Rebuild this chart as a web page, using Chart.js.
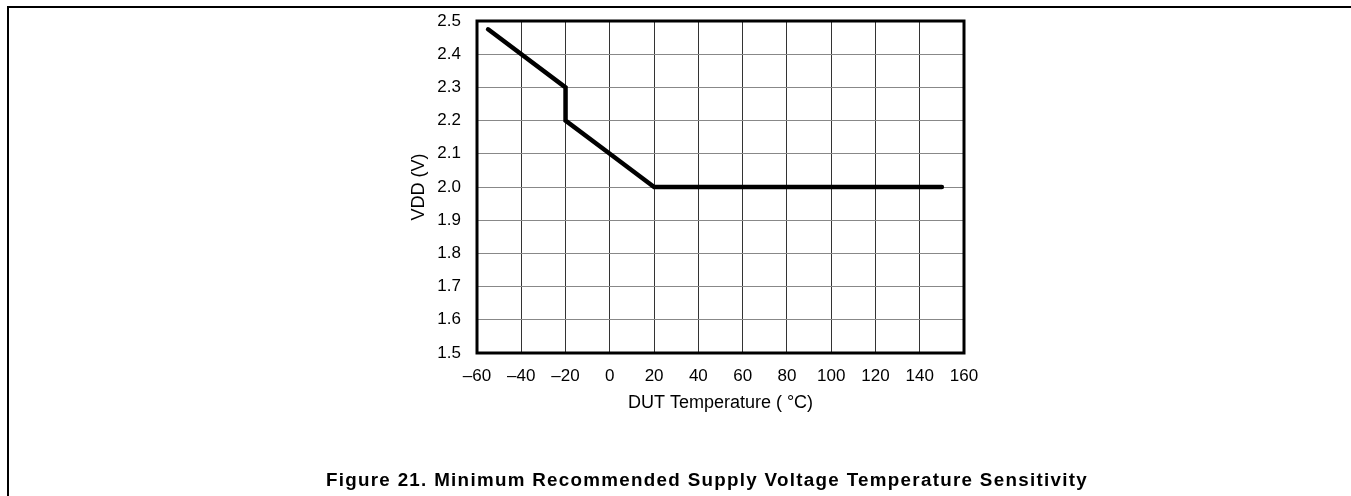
<!DOCTYPE html>
<html>
<head>
<meta charset="utf-8">
<script src="https://cdn.jsdelivr.net/npm/chart.js@4.4.1/dist/chart.umd.min.js"></script>
<style>
  html, body { margin: 0; padding: 0; background: #fff; }
  body { width: 1351px; height: 496px; position: relative; overflow: hidden; }
  #frame { position: absolute; left: 7px; top: 6px; width: 1400px; height: 600px;
           border-top: 2px solid #000; border-left: 2px solid #000; }
  #wrap { position: absolute; left: 0; top: 0; width: 1351px; height: 496px; }
  #caption { position: absolute; left: 0; width: 1414px; top: 469px; text-align: center;
             font-family: "Liberation Sans", Arial, sans-serif; font-weight: bold; font-size: 18.8px;
             letter-spacing: 1.3px; line-height: 22px; color: #000; white-space: nowrap; }
</style>
</head>
<body>
<div id="frame"></div>
<div id="wrap"><canvas id="c" width="1351" height="496"></canvas></div>
<div id="caption">Figure 21. Minimum Recommended Supply Voltage Temperature Sensitivity</div>
<script>
// Data
const tempC = [-55, -20, -20, 0, 20, 150];
const vdd   = [2.475, 2.3, 2.2, 2.1, 2.0, 2.0];
const xTicks = [-60, -40, -20, 0, 20, 40, 60, 80, 100, 120, 140, 160];
const yTicks = [1.5, 1.6, 1.7, 1.8, 1.9, 2.0, 2.1, 2.2, 2.3, 2.4, 2.5];
const xTitle = 'DUT Temperature ( \u00B0C)';
const yTitle = 'VDD (V)';

const points = tempC.map((t, i) => ({ x: t, y: vdd[i] }));
const FONT = '"Liberation Sans", Arial, sans-serif';

const frameBox = {
  id: 'frameBox',
  afterDraw(chart) {
    const a = chart.chartArea, ctx = chart.ctx;
    ctx.save();
    ctx.strokeStyle = '#000';
    ctx.lineWidth = 3;
    ctx.strokeRect(a.left, a.top, a.right - a.left, a.bottom - a.top);
    ctx.restore();
  }
};

new Chart(document.getElementById('c'), {
  type: 'line',
  data: {
    datasets: [{
      data: points,
      borderColor: '#000',
      borderWidth: 4.5,
      pointRadius: 0,
      tension: 0,
      borderCapStyle: 'round',
      borderJoinStyle: 'miter',
      fill: false
    }]
  },
  options: {
    responsive: false,
    animation: false,
    devicePixelRatio: 1,
    layout: { padding: { left: 405, right: 387, top: 21, bottom: 82 } },
    plugins: { legend: { display: false }, tooltip: { enabled: false }, title: { display: false } },
    scales: {
      x: {
        type: 'linear',
        min: xTicks[0], max: xTicks[xTicks.length - 1],
        afterBuildTicks(scale) { scale.ticks = xTicks.map(v => ({ value: v })); },
        afterFit(scale) { scale.height = 61; scale.paddingLeft = 0; scale.paddingRight = 0; },
        border: { display: false },
        grid: { color: '#333', lineWidth: 1, drawTicks: false },
        ticks: {
          padding: 13, color: '#000', font: { family: FONT, size: 17 },
          maxRotation: 0, autoSkip: false,
          callback: v => String(v).replace('-', '\u2013')
        },
        title: { display: true, text: xTitle, color: '#000', font: { family: FONT, size: 18 }, padding: { top: 0, bottom: 0 } }
      },
      y: {
        type: 'linear',
        min: yTicks[0], max: yTicks[yTicks.length - 1],
        afterBuildTicks(scale) { scale.ticks = yTicks.map(v => ({ value: v })); },
        afterFit(scale) { scale.width = 72; scale.paddingTop = 0; scale.paddingBottom = 0; },
        border: { display: false },
        grid: { color: '#888', lineWidth: 1, drawTicks: false },
        ticks: {
          padding: 16, color: '#000', font: { family: FONT, size: 17 }, autoSkip: false,
          callback: v => Number(v).toFixed(1)
        },
        title: { display: true, text: yTitle, color: '#000', font: { family: FONT, size: 18 }, padding: { top: 3, bottom: 0 } }
      }
    }
  },
  plugins: [frameBox]
});
</script>
</body>
</html>
